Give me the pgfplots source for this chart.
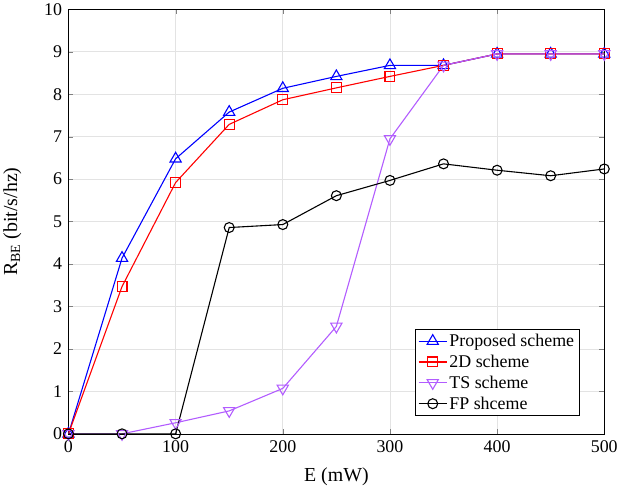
\documentclass[border=0pt]{standalone}
\usepackage{pgfplots}
\pgfplotsset{compat=1.18}
\usepackage{fontspec}
\setmainfont{Liberation Serif}
\definecolor{tspurple}{RGB}{178,92,255}
\begin{document}
\begin{tikzpicture}
\begin{axis}[
  scale only axis, width=539pt, height=427pt,
  xmin=0, xmax=500, ymin=0, ymax=10,
  xtick={0,100,...,500}, ytick={0,1,...,10},
  /pgf/number format/assume math mode=true,
  tick label style={font=\fontsize{18}{20}\selectfont},
  yticklabel style={xshift=-3pt},
  xticklabel style={yshift=-3pt},
  label style={font=\fontsize{20}{22}\selectfont},
  xlabel={E (mW)},
  ylabel={R$_{\mathrm{BE}}$ (bit/s/hz)},
  ylabel style={yshift=16pt},
  xlabel style={yshift=-9pt},
  grid=major, grid style={gray!22, line width=0.6pt},
  tick align=inside, axis line style={line width=0.6pt},
  major tick length=5pt,
  legend cell align=left,
  legend image code/.code={\draw[mark repeat=2,mark phase=2] plot coordinates {(0cm,0cm) (0.5cm,0cm) (1cm,0cm)};},
  legend style={at={(1,0)}, anchor=south east, xshift=-25pt, yshift=18pt,
    font=\fontsize{18}{20}\selectfont, draw=black, line width=0.6pt, row sep=3pt, inner sep=3pt},
  every axis plot/.append style={line width=1.1pt},
]
\addplot[blue, mark=triangle, mark size=6.5pt, mark options={solid, line width=1.1pt}] coordinates {
(0,0) (50,4.14) (100,6.48) (150,7.58) (200,8.14) (250,8.42) (300,8.68) (350,8.68) (400,8.95) (450,8.95) (500,8.95)};
\addlegendentry{Proposed scheme}
\addplot[red, mark=square, mark size=5pt, mark options={solid, line width=1.1pt}] coordinates {
(0,0) (50,3.47) (100,5.92) (150,7.29) (200,7.87) (250,8.15) (300,8.42) (350,8.68) (400,8.95) (450,8.95) (500,8.95)};
\addlegendentry{2D scheme}
\addplot[tspurple, mark=triangle, mark size=6.5pt, mark options={solid, rotate=180, line width=1.1pt}] coordinates {
(0,0) (50,0) (100,0.26) (150,0.54) (200,1.07) (250,2.53) (300,6.95) (350,8.68) (400,8.95) (450,8.95) (500,8.95)};
\addlegendentry{TS scheme}
\addplot[black, mark=o, mark size=5pt, mark options={solid, line width=1.1pt}] coordinates {
(0,0) (50,0) (100,0) (150,4.86) (200,4.93) (250,5.61) (300,5.97) (350,6.36) (400,6.21) (450,6.08) (500,6.24)};
\addlegendentry{FP shceme}
\end{axis}
\end{tikzpicture}
\end{document}
